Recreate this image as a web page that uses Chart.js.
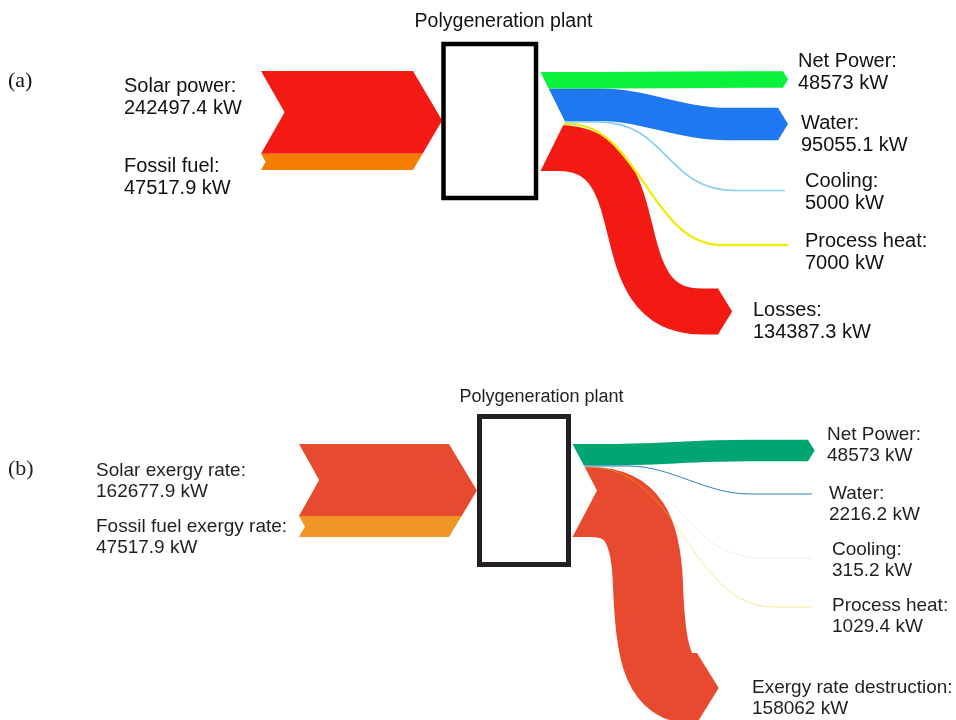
<!DOCTYPE html>
<html>
<head>
<meta charset="utf-8">
<script src="https://cdn.jsdelivr.net/npm/chart.js@4.4.1/dist/chart.umd.min.js"></script>
<style>
  html, body { margin: 0; padding: 0; background: #fff; overflow: hidden; }
  canvas { display: block; }
</style>
</head>
<body>
<canvas id="c" width="956" height="720"></canvas>
<script>
// (a) energy balance of the plant
const energyInLabels = ['Solar power:', 'Fossil fuel:'];
const energyInValues = [242497.4, 47517.9];
const energyOutLabels = ['Net Power:', 'Water:', 'Cooling:', 'Process heat:', 'Losses:'];
const energyOutValues = [48573, 95055.1, 5000, 7000, 134387.3];

// (b) exergy balance of the plant
const exergyInLabels = ['Solar exergy rate:', 'Fossil fuel exergy rate:'];
const exergyInValues = [162677.9, 47517.9];
const exergyOutLabels = ['Net Power:', 'Water:', 'Cooling:', 'Process heat:', 'Exergy rate destruction:'];
const exergyOutValues = [48573, 2216.2, 315.2, 1029.4, 158062];

const unit = 'kW';
const plantTitle = 'Polygeneration plant';

// Layout and styling of the two flow diagrams (diagram units = x/y scale units)
const SANS = '"Liberation Sans", Arial, Helvetica, sans-serif';
const panels = [
  {
    tag: '(a)', tagPos: [8, 87], tagFont: '22px "Liberation Serif", "Times New Roman", serif',
    widthScale: 'wa',
    inLabels: energyInLabels, inValues: energyInValues,
    outLabels: energyOutLabels, outValues: energyOutValues,
    inColors: ['#f31a14', '#f57d02'],
    outColors: ['#0af23b', '#1f78ef', '#86d2f3', '#f0ec10', '#f31a14'],
    font: '20px ' + SANS, textColor: '#111111', lineGap: 21.5,
    title: { x: 503.5, y: 27, font: '19.5px ' + SANS },
    box: { x0: 443.5, y0: 44, x1: 536, y1: 198, lw: 4.5, color: '#000000' },
    inX0: 261, inX1: 413, inTop: 71, tipK: 0.59, notchK: 0.57,
    inText: [[124, 92], [124, 172]],
    outX: 540, outTop: 72, outNotch: 25, arrowK: 0.62,
    out: [
      { end: 79.5, curve: [600, 650, 700, 750], x1: 783, arrow: true, text: [798, 67] },
      { end: 124, curve: [600, 645, 680, 728], x1: 778, arrow: true, text: [801, 129] },
      { end: 190.5, curve: [598, 668, 665, 735], x1: 785, arrow: false, text: [805, 187] },
      { end: 245, curve: [568, 640, 650, 722], x1: 788, arrow: false, text: [805, 247] },
      { end: 311.5, curve: [558, 662, 598, 702], x1: 718, arrow: true, text: [753, 316] }
    ]
  },
  {
    tag: '(b)', tagPos: [8, 475], tagFont: '22px "Liberation Serif", "Times New Roman", serif',
    widthScale: 'wb',
    inLabels: exergyInLabels, inValues: exergyInValues,
    outLabels: exergyOutLabels, outValues: exergyOutValues,
    inColors: ['#e74a2f', '#f09626'],
    outColors: ['#00a671', '#2a7cc6', '#1f8fdc', '#e8cf10', '#e74a2f'],
    font: '19px ' + SANS, textColor: '#231f20', lineGap: 21,
    title: { x: 541.5, y: 402, font: '18px ' + SANS },
    box: { x0: 479.5, y0: 416.5, x1: 568.5, y1: 564.5, lw: 5, color: '#231f20' },
    inX0: 299, inX1: 449, inTop: 444, tipK: 0.6, notchK: 0.56,
    inText: [[96, 476], [96, 532]],
    outX: 572, outTop: 444, outNotch: 25, arrowK: 0.62,
    out: [
      { end: 450.5, curve: [600, 660, 690, 750], x1: 808, arrow: true, text: [827, 440] },
      { end: 494, curve: [628, 672, 705, 750], x1: 812, arrow: false, text: [829, 499] },
      { end: 558, curve: [598, 682, 680, 762], x1: 812, arrow: false, text: [832, 555] },
      { end: 607, curve: [588, 680, 690, 774], x1: 812, arrow: false, text: [832, 611] },
      { end: 688, segs: [[590, null, 0, 0, 590, null], [632, null, 646, 528, 648, 585], [650, 642, 655, 688, 690, 688]],
        x1: 697, arrow: true, text: [752, 693] }
    ]
  }
];

function drawPanel(chart, p) {
  const ctx = chart.ctx;
  const xs = chart.scales.x, ys = chart.scales.y, ws = chart.scales[p.widthScale];
  const X = v => xs.getPixelForValue(v);
  const Y = v => ys.getPixelForValue(v);
  const thick = v => Math.abs(ws.getPixelForValue(v) - ws.getPixelForValue(0));
  const sum = a => a.reduce((s, v) => s + v, 0);

  ctx.save();

  // ---- incoming streams: one chevron split into stacked bands ----
  const inT = p.inValues.map(thick);
  const H = sum(inT);
  const top = Y(p.inTop), mid = top + H / 2;
  const xl = X(p.inX0), xr = X(p.inX1);
  const rightX = y => xr + p.tipK * (H / 2 - Math.abs(y - mid));
  let y = top;
  inT.forEach((h, i) => {
    const y0 = y, y1 = y + h;
    ctx.beginPath();
    ctx.moveTo(xl, y0);
    ctx.lineTo(rightX(y0), y0);
    if (mid > y0 && mid < y1) ctx.lineTo(rightX(mid), mid);
    ctx.lineTo(rightX(y1), y1);
    ctx.lineTo(xl, y1);
    ctx.lineTo(xl + p.notchK * h / 2, (y0 + y1) / 2);
    ctx.closePath();
    ctx.fillStyle = p.inColors[i];
    ctx.fill();
    y = y1;
  });

  // ---- outgoing streams ----
  const outT = p.outValues.map(thick);
  const Ho = sum(outT);
  const ot = Y(p.outTop), omid = ot + Ho / 2;
  const ox = X(p.outX);
  const centers = [];
  let yy = ot;
  outT.forEach(w => { centers.push(yy + w / 2); yy += w; });

  // wide bands first, thin lines on top
  const order = outT.map((w, i) => i).sort((a, b) => outT[b] - outT[a]);
  order.forEach(i => {
    const o = p.out[i];
    const w = outT[i], yc = centers[i], ye = Y(o.end);
    const col = p.outColors[i];
    ctx.beginPath();
    ctx.moveTo(ox, yc);
    if (o.segs) {
      o.segs.forEach((s, k) => {
        const pick = (v, d) => (v === null ? d : Y(v));
        if (k === 0) { ctx.lineTo(X(s[4]), pick(s[5], yc)); return; }
        ctx.bezierCurveTo(X(s[0]), pick(s[1], yc), X(s[2]), Y(s[3]), X(s[4]), Y(s[5]));
      });
    } else {
      const [a, b, c, d] = o.curve.map(X);
      ctx.lineTo(a, yc);
      ctx.bezierCurveTo(b, yc, c, ye, d, ye);
    }
    const xe = X(o.x1);
    ctx.lineTo(xe, ye);
    ctx.lineWidth = w;
    ctx.lineCap = 'butt';
    ctx.lineJoin = 'round';
    ctx.strokeStyle = col;
    ctx.stroke();
    if (o.arrow) {
      ctx.beginPath();
      ctx.moveTo(xe - 0.6, ye - w / 2);
      ctx.lineTo(xe, ye - w / 2);
      ctx.lineTo(xe + p.arrowK * w / 2, ye);
      ctx.lineTo(xe, ye + w / 2);
      ctx.lineTo(xe - 0.6, ye + w / 2);
      ctx.closePath();
      ctx.fillStyle = col;
      ctx.fill();
    }
  });

  // notch where the outgoing streams leave the plant
  ctx.beginPath();
  ctx.moveTo(ox - 3, ot - 1);
  ctx.lineTo(ox, ot - 1);
  ctx.lineTo(ox + X(p.outNotch) - X(0), omid);
  ctx.lineTo(ox, ot + Ho + 1);
  ctx.lineTo(ox - 3, ot + Ho + 1);
  ctx.closePath();
  ctx.fillStyle = '#ffffff';
  ctx.fill();

  // ---- plant box ----
  const b = p.box;
  ctx.lineWidth = b.lw;
  ctx.strokeStyle = b.color;
  ctx.lineJoin = 'miter';
  ctx.strokeRect(X(b.x0), Y(b.y0), X(b.x1) - X(b.x0), Y(b.y1) - Y(b.y0));

  // ---- texts ----
  ctx.fillStyle = p.textColor;
  ctx.textBaseline = 'alphabetic';
  ctx.textAlign = 'center';
  ctx.font = p.title.font;
  ctx.fillText(plantTitle, X(p.title.x), Y(p.title.y));

  ctx.textAlign = 'left';
  ctx.font = p.tagFont;
  ctx.fillText(p.tag, X(p.tagPos[0]), Y(p.tagPos[1]));

  ctx.font = p.font;
  const label = (txt, v, pos) => {
    ctx.fillText(txt, X(pos[0]), Y(pos[1]));
    ctx.fillText(String(v) + ' ' + unit, X(pos[0]), Y(pos[1] + p.lineGap));
  };
  p.inLabels.forEach((t, i) => label(t, p.inValues[i], p.inText[i]));
  p.outLabels.forEach((t, i) => label(t, p.outValues[i], p.out[i].text));

  ctx.restore();
}

const flowPlugin = {
  id: 'plantFlows',
  afterDatasetsDraw(chart) {
    panels.forEach(p => drawPanel(chart, p));
  }
};

new Chart(document.getElementById('c'), {
  type: 'scatter',
  data: { datasets: [] },
  options: {
    responsive: false,
    animation: false,
    events: [],
    layout: { padding: 0 },
    plugins: { legend: { display: false }, tooltip: { enabled: false } },
    scales: {
      x: { type: 'linear', min: 0, max: 956, display: false },
      y: { type: 'linear', min: 0, max: 720, reverse: true, display: false },
      // stream width scales: kW per pixel for each diagram
      wa: { type: 'linear', axis: 'y', min: 0, max: 720 / 0.000341, display: false },
      wb: { type: 'linear', axis: 'y', min: 0, max: 720 / 0.000443, display: false }
    }
  },
  plugins: [flowPlugin]
});
</script>
</body>
</html>
